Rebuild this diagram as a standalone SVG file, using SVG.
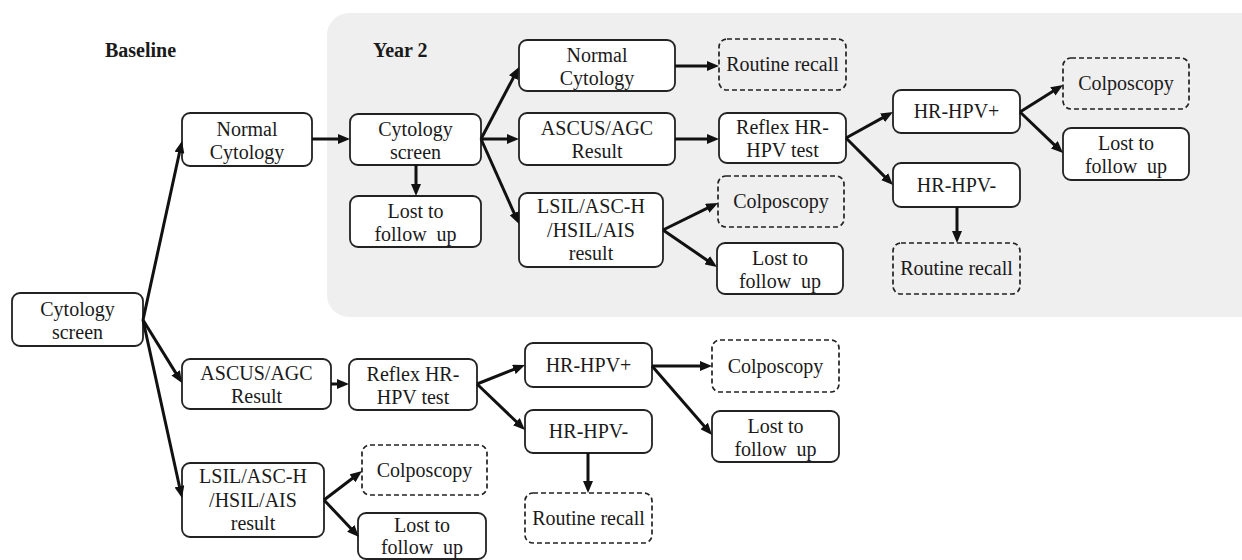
<svg xmlns="http://www.w3.org/2000/svg" width="1242" height="560" viewBox="0 0 1242 560" font-family="Liberation Serif, DejaVu Serif, serif">
<style>
.bx{fill:#fff;stroke:#222;stroke-width:1.8}
.ds{fill:none;stroke:#222;stroke-width:1.7;stroke-dasharray:5 3}
text{font-size:20px;fill:#1a1a1a;text-anchor:middle}
.ttl{font-weight:bold;text-anchor:start}
.cn line{stroke:#111;stroke-width:3;marker-end:url(#ah)}
</style>
<defs>
<marker id="ah" viewBox="0 0 12 10" markerUnits="userSpaceOnUse" markerWidth="12" markerHeight="10" refX="3" refY="5" orient="auto">
<path d="M0,0 L12,5 L0,10 z" fill="#111"/>
</marker>
</defs>
<rect id="year2-panel" x="327" y="13" width="940" height="304" rx="22" fill="#efefef"/>
<text class="ttl" x="105" y="57">Baseline</text>
<text class="ttl" x="373" y="57">Year 2</text>

<g id="b-cyto"><rect class="bx" x="12" y="293" width="131" height="53" rx="8"/><text x="77.5" y="316">Cytology</text><text x="77.5" y="339">screen</text></g>
<g id="b-normal"><rect class="bx" x="182" y="113" width="130" height="53" rx="8"/><text x="247" y="136">Normal</text><text x="247" y="159">Cytology</text></g>
<g id="b-ascus"><rect class="bx" x="182" y="359" width="149" height="50" rx="8"/><text x="256.5" y="380">ASCUS/AGC</text><text x="256.5" y="403">Result</text></g>
<g id="b-lsil"><rect class="bx" x="182" y="463" width="142" height="74" rx="8"/><text x="253" y="483">LSIL/ASC-H</text><text x="253" y="507">/HSIL/AIS</text><text x="253" y="530">result</text></g>
<g id="b-reflex"><rect class="bx" x="349" y="359" width="128" height="51" rx="8"/><text x="413" y="381">Reflex HR-</text><text x="413" y="404">HPV test</text></g>
<g id="b-colpo"><rect class="ds" x="362" y="445" width="125" height="50" rx="8"/><text x="424.5" y="477">Colposcopy</text></g>
<g id="b-lost"><rect class="bx" x="358" y="513" width="128" height="46" rx="8"/><text x="422" y="532">Lost to</text><text x="422" y="554" xml:space="preserve">follow  up</text></g>
<g id="b-hpvp"><rect class="bx" x="525" y="343" width="127" height="44" rx="8"/><text x="588.5" y="372">HR-HPV+</text></g>
<g id="b-hpvn"><rect class="bx" x="525" y="410" width="127" height="43" rx="8"/><text x="588.5" y="438">HR-HPV-</text></g>
<g id="b-recall"><rect class="ds" x="525" y="493" width="127" height="50" rx="8"/><text x="588.5" y="525">Routine recall</text></g>
<g id="b-colpo2"><rect class="ds" x="712" y="340" width="127" height="52" rx="8"/><text x="775.5" y="373">Colposcopy</text></g>
<g id="b-lost2"><rect class="bx" x="712" y="411" width="127" height="51" rx="8"/><text x="775.5" y="433">Lost to</text><text x="775.5" y="456" xml:space="preserve">follow  up</text></g>

<g id="y-cyto"><rect class="bx" x="350" y="114" width="131" height="51" rx="8"/><text x="415.5" y="136">Cytology</text><text x="415.5" y="159">screen</text></g>
<g id="y-lost"><rect class="bx" x="350" y="196" width="131" height="51" rx="8"/><text x="415.5" y="218">Lost to</text><text x="415.5" y="241" xml:space="preserve">follow  up</text></g>
<g id="y-normal"><rect class="bx" x="519" y="40" width="156" height="51" rx="8"/><text x="597" y="62">Normal</text><text x="597" y="85">Cytology</text></g>
<g id="y-ascus"><rect class="bx" x="519" y="113" width="156" height="52" rx="8"/><text x="597" y="135">ASCUS/AGC</text><text x="597" y="158">Result</text></g>
<g id="y-lsil"><rect class="bx" x="519" y="193" width="144" height="74" rx="8"/><text x="591" y="213">LSIL/ASC-H</text><text x="591" y="237">/HSIL/AIS</text><text x="591" y="260">result</text></g>
<g id="y-recall"><rect class="ds" x="719" y="39" width="127" height="51" rx="8"/><text x="782.5" y="71">Routine recall</text></g>
<g id="y-reflex"><rect class="bx" x="719" y="113" width="127" height="50" rx="8"/><text x="782.5" y="134">Reflex HR-</text><text x="782.5" y="157">HPV test</text></g>
<g id="y-colpo"><rect class="ds" x="718" y="176" width="126" height="51" rx="8"/><text x="781" y="208">Colposcopy</text></g>
<g id="y-lost2"><rect class="bx" x="717" y="243" width="126" height="51" rx="8"/><text x="780" y="265">Lost to</text><text x="780" y="288" xml:space="preserve">follow  up</text></g>
<g id="y-hpvp"><rect class="bx" x="893" y="90" width="127" height="43" rx="8"/><text x="956.5" y="118">HR-HPV+</text></g>
<g id="y-hpvn"><rect class="bx" x="893" y="163" width="127" height="44" rx="8"/><text x="956.5" y="192">HR-HPV-</text></g>
<g id="y-recall2"><rect class="ds" x="893" y="243" width="127" height="51" rx="8"/><text x="956.5" y="275">Routine recall</text></g>
<g id="y-colpo2"><rect class="ds" x="1063" y="58" width="126" height="51" rx="8"/><text x="1126" y="90">Colposcopy</text></g>
<g id="y-lost3"><rect class="bx" x="1063" y="128" width="126" height="52" rx="8"/><text x="1126" y="150">Lost to</text><text x="1126" y="173" xml:space="preserve">follow  up</text></g>

<g id="connectors" class="cn">
<line x1="143" y1="320" x2="180.08" y2="149.79"/>
<line x1="143" y1="320" x2="177.26" y2="375.35"/>
<line x1="143" y1="320" x2="180.07" y2="489.21"/>
<line x1="312" y1="139" x2="341" y2="139"/>
<line x1="416" y1="165" x2="416" y2="187"/>
<line x1="481" y1="139" x2="514.8" y2="74.96"/>
<line x1="481" y1="139" x2="510" y2="139"/>
<line x1="481" y1="139" x2="515.33" y2="215.78"/>
<line x1="675" y1="66" x2="710" y2="66"/>
<line x1="675" y1="139" x2="710" y2="139"/>
<line x1="663" y1="230" x2="709.92" y2="206.97"/>
<line x1="663" y1="230" x2="709.58" y2="261.91"/>
<line x1="846" y1="138" x2="885.12" y2="116.36"/>
<line x1="846" y1="138" x2="886.64" y2="178.64"/>
<line x1="1020" y1="112" x2="1055.38" y2="89.79"/>
<line x1="1020" y1="112" x2="1056.49" y2="146.79"/>
<line x1="957" y1="207" x2="957" y2="234"/>
<line x1="331" y1="384" x2="340" y2="384"/>
<line x1="477" y1="384" x2="516.63" y2="368.31"/>
<line x1="477" y1="384" x2="518.5" y2="423.77"/>
<line x1="652" y1="366" x2="703" y2="366"/>
<line x1="652" y1="366" x2="706.09" y2="428.21"/>
<line x1="588" y1="453" x2="588" y2="484"/>
<line x1="324" y1="500" x2="354.84" y2="476.46"/>
<line x1="324" y1="500" x2="352.82" y2="530.46"/>
</g>
</svg>
